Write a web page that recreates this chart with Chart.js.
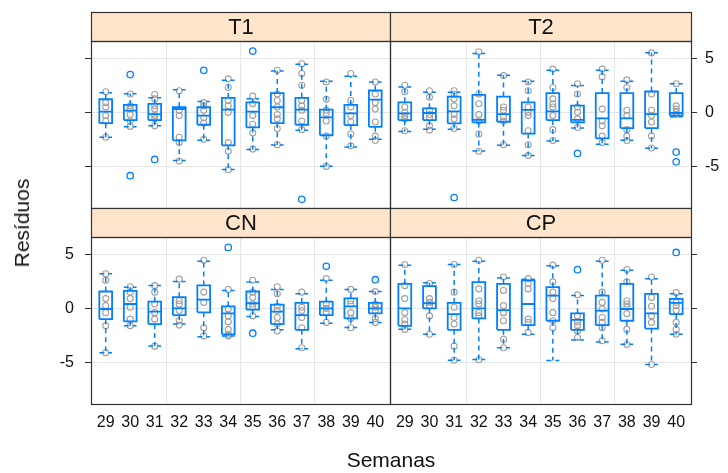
<!DOCTYPE html>
<html lang="pt">
<head>
<meta charset="UTF-8">
<title>Resíduos por semana</title>
<script src="https://cdn.jsdelivr.net/npm/chart.js"></script>
<style>
    body { margin: 0; background: #fff; }
    #wrap { position: relative; width: 728px; height: 473px; font-family: "Liberation Sans", Arial, sans-serif; color: #111; }
    #wrap canvas { position: absolute; left: 0; top: 0; }
    .lab { position: absolute; font-size: 21px; white-space: nowrap; }
    #xlab { left: 91px; width: 600px; top: 448px; text-align: center; }
    #ylab { left: 22px; top: 223px; transform: translate(-50%, -50%) rotate(-90deg); }
</style>
</head>
<body>
<div id="wrap">
    <canvas id="pT1" width="728" height="473"></canvas>
    <canvas id="pT2" width="728" height="473"></canvas>
    <canvas id="pCN" width="728" height="473"></canvas>
    <canvas id="pCP" width="728" height="473"></canvas>
    <div class="lab" id="xlab">Semanas</div>
    <div class="lab" id="ylab">Resíduos</div>
</div>
<script>
    const weeks = ['29', '30', '31', '32', '33', '34', '35', '36', '37', '38', '39', '40'];
    const yTicks = [-5, 0, 5];

    // box stats per week: [lower whisker, q1, median, q3, upper whisker]
    const boxT1 = [
        [-2.3, -1.0, 0.06, 1.21, 1.81], [-1.34, -0.72, 0.16, 0.69, 1.71], [-1.25, -0.72, -0.16, 0.78, 1.34],
        [-4.45, -2.59, 0.31, 0.47, 2.09], [-2.59, -1.15, -0.31, 0.47, 1.0], [-5.29, -3.05, 0.25, 1.34, 2.96],
        [-3.43, -1.4, 0.06, 0.93, 1.25], [-3.02, -1.0, 0.47, 1.78, 3.83], [-1.65, -1.15, 0.25, 1.34, 4.45],
        [-4.98, -2.12, -0.47, 0.25, 2.87], [-3.21, -1.18, -0.09, 0.69, 3.33], [-2.49, -1.34, 1.18, 2.02, 2.8]
    ];
    const outT1 = [[], [3.49, -5.86], [-4.36], [], [3.89], [], [5.67], [], [-8.04], [], [], []];
    const ptsT1 = [
        [1.9, 0.9, 0.5, -0.3, -0.8, -2.3], [1.7, 0.6, 0.3, -0.2, -0.8, -1.3], [1.65, 1.25, 0.6, 0.3, -0.3, -0.6, -1.25],
        [2.0, 0.2, -0.3, -2.3, -2.8, -4.5], [0.9, 0.6, 0.2, -0.5, -1.0, -2.5], [3.1, 2.3, 1.1, 0.6, 0.0, -2.8, -3.6, -5.3],
        [1.5, 0.8, -0.3, -1.1, -1.9, -3.4], [3.9, 1.7, 1.1, 0.5, -0.2, -0.6, -1.5, -3.0], [4.5, 3.6, 2.5, 1.1, 0.6, 0.2, -0.8, -1.6],
        [2.8, 1.2, 0.2, -0.1, -0.8, -2.2, -5.0], [3.6, 1.1, 0.5, -0.3, -0.9, -2.0, -3.1], [2.8, 1.7, 0.9, 0.3, -0.9, -2.2, -2.6]
    ];

    const boxT2 = [
        [-1.78, -0.72, -0.09, 0.93, 2.34], [-1.56, -0.72, -0.06, 0.37, 1.87], [-1.56, -1.03, 0.09, 1.46, 1.87],
        [-3.58, -0.93, -0.69, 1.62, 5.45], [-3.05, -0.87, -0.16, 1.46, 3.43], [-3.99, -1.96, 0.22, 0.93, 2.87],
        [-2.65, -0.72, 0.09, 1.78, 3.89], [-1.46, -0.93, -0.69, 0.62, 2.49], [-2.96, -2.4, -0.56, 1.78, 3.89],
        [-2.59, -1.46, -0.56, 1.78, 2.87], [-3.33, -1.46, -0.16, 1.93, 5.51], [-0.4, -0.31, -0.06, 1.78, 2.65]
    ];
    const outT2 = [[], [], [-7.88], [], [], [], [], [-3.8], [], [], [], [-3.68, -4.58]];
    const ptsT2 = [
        [2.5, 1.9, 0.5, 0.0, -0.3, -0.6, -1.7], [2.0, 1.4, 0.2, -0.2, -0.5, -1.25, -1.65], [2.0, 1.7, 1.25, 0.6, -0.2, -0.6, -1.5],
        [5.6, 1.7, 0.8, -0.2, -0.8, -2.0, -3.6], [3.4, 0.5, 0.2, -0.4, -0.8, -3.0], [2.8, 2.0, 0.5, 0.0, -0.3, -1.7, -3.0, -4.0],
        [4.0, 2.3, 1.25, 0.8, 0.5, -0.3, -1.6, -2.6], [2.65, 1.7, 0.5, 0.0, -0.6, -1.4], [4.0, 3.3, 0.3, -0.8, -1.25, -2.2, -2.8],
        [3.0, 2.3, 0.2, -0.3, -1.6, -2.2, -2.6], [5.5, 1.7, 0.2, -0.3, -0.9, -2.2, -3.3], [2.65, 0.6, 0.3, 0.0, -0.2]
    ];

    const boxCN = [
        [-4.11, -1.0, -0.06, 1.56, 3.21], [-1.62, -1.21, 0.4, 1.62, 1.96], [-3.49, -1.46, -0.31, 0.62, 2.12],
        [-1.46, -0.62, 0.0, 1.03, 2.49], [-2.62, -0.37, 0.81, 2.12, 4.36], [-2.55, -2.4, -0.47, 0.19, 1.65],
        [-0.75, -0.12, 0.47, 1.56, 2.43], [-1.99, -1.46, -0.31, 0.34, 1.74], [-3.74, -1.99, -0.62, 0.5, 1.34],
        [-1.37, -0.62, 0.0, 0.62, 2.59], [-1.78, -0.93, 0.19, 0.93, 1.74], [-1.31, -0.47, 0.0, 0.5, 1.56]
    ];
    const outCN = [[], [], [], [], [], [5.64], [-2.3], [], [], [3.89], [], [2.65]];
    const ptsCN = [
        [3.2, 2.6, 0.9, 0.25, -0.4, -1.6, -4.1], [2.0, 1.5, 0.9, 0.1, -1.0, -1.6], [2.1, 1.5, 0.4, -0.4, -1.0, -3.5],
        [2.7, 0.7, 0.4, -0.2, -1.15, -1.55], [4.45, 1.5, 0.55, -1.8, -2.55], [1.75, -0.05, -0.7, -1.25, -1.95, -2.4, -2.55],
        [2.6, 1.5, 1.0, 0.4, 0.1, -0.7], [2.0, 1.35, 0.2, -0.2, -0.85, -1.45, -2.1], [1.5, 0.1, -0.2, -0.85, -1.8, -3.65],
        [2.75, 0.4, 0.0, -0.4, -1.3], [1.75, 0.7, 0.4, -0.4, -0.95, -1.8], [1.55, 0.4, 0.1, -0.2, -0.95, -1.3]
    ];

    const boxCP = [
        [-1.93, -1.62, 0.0, 2.27, 3.99], [-2.4, 0.0, 0.47, 2.06, 2.37], [-4.8, -1.99, -0.53, 0.5, 4.05],
        [-4.74, -0.93, 0.0, 2.43, 4.36], [-3.64, -1.99, -0.16, 2.27, 2.8], [-2.4, -1.56, 0.4, 2.59, 2.68],
        [-4.83, -1.15, 1.18, 1.96, 3.93], [-2.93, -1.99, -1.06, -0.47, 1.18], [-3.12, -1.56, -0.22, 1.18, 4.36],
        [-3.33, -1.15, -0.06, 2.27, 3.52], [-5.2, -1.87, -0.47, 1.34, 2.74], [-2.4, -0.53, 0.5, 0.87, 1.34]
    ];
    const outCP = [[], [], [], [], [], [], [], [3.58], [], [], [], [5.17]];
    const ptsCP = [
        [4.05, 2.1, 0.9, -0.4, -1.05, -1.45, -1.95], [2.3, 0.9, 0.55, 0.25, -0.7, -2.4], [4.05, 1.5, 0.1, -0.85, -1.45, -3.5, -4.8],
        [4.45, 1.8, 0.7, 0.4, -0.4, -0.7, -4.75], [2.9, 1.65, 0.25, -0.4, -1.15, -2.85, -3.65], [2.75, 2.3, 1.8, -1.0, -1.3, -2.25],
        [4.0, 2.45, 1.5, 0.9, -0.4, -1.15, -1.8], [1.25, -0.7, -1.25, -1.6, -2.1, -2.7], [4.45, 1.5, 0.55, -0.05, -0.85, -1.3, -1.8, -3.0],
        [3.6, 2.45, 0.7, 0.4, 0.1, -0.5, -1.95, -3.35], [2.9, 1.0, 0.2, -0.7, -1.3, -5.2], [1.45, 0.55, 0.25, -0.2, -1.3, -1.95, -2.4]
    ];

    const blue = '#0080ff';
    const gridColor = '#e6e6e6';
    const frameColor = '#333333';
    const fontFamily = '"Liberation Sans", Arial, sans-serif';
    Chart.defaults.font.family = fontFamily;
    Chart.defaults.color = '#111';

    // strip with the panel name above the plot area, plus the panel frame
    const stripPlugin = {
        id: 'strip',
        afterDraw(chart, args, opts) {
            const ctx = chart.ctx;
            const a = chart.chartArea;
            const h = 29;
            const l = Math.round(a.left) + 0.5, r = Math.round(a.right) + 0.5;
            const t = Math.round(a.top) + 0.5, b = Math.round(a.bottom) + 0.5;
            ctx.save();
            ctx.fillStyle = '#ffe5cc';
            ctx.fillRect(l, t - h, r - l, h);
            ctx.strokeStyle = frameColor;
            ctx.lineWidth = 1.2;
            ctx.strokeRect(l, t - h, r - l, h);
            ctx.strokeRect(l, t, r - l, b - t);
            ctx.fillStyle = '#111';
            ctx.font = '22px ' + fontFamily;
            ctx.textAlign = 'center';
            ctx.textBaseline = 'middle';
            ctx.fillText(opts.text, (l + r) / 2, t - h / 2 + 1);
            ctx.restore();
        }
    };

    function panelData(box, out, pts) {
        const w = 0.26;
        const grey = [], frame = [], whisk = [], odd = [];
        box.forEach((s, i) => {
            const x = i + 1;
            const [lo, q1, md, q3, hi] = s;
            pts[i].forEach(v => grey.push({x: x, y: v}));
            frame.push({x: x - w, y: q1}, {x: x + w, y: q1}, {x: x + w, y: q3}, {x: x - w, y: q3}, {x: x - w, y: q1}, {x: x, y: null});
            frame.push({x: x - w, y: md}, {x: x + w, y: md}, {x: x, y: null});
            whisk.push({x: x, y: q3}, {x: x, y: hi}, {x: x, y: null});
            whisk.push({x: x, y: q1}, {x: x, y: lo}, {x: x, y: null});
            whisk.push({x: x - w, y: hi}, {x: x + w, y: hi}, {x: x, y: null});
            whisk.push({x: x - w, y: lo}, {x: x + w, y: lo}, {x: x, y: null});
            out[i].forEach(v => odd.push({x: x, y: v}));
        });
        return [
            {data: grey, order: 4, showLine: false, pointRadius: 3, pointBorderColor: '#a0a0a0',
             pointBackgroundColor: 'rgba(255,255,255,0)', pointBorderWidth: 1.1},
            {data: whisk, order: 3, showLine: true, spanGaps: false, borderColor: blue, borderWidth: 1.5,
             borderDash: [5, 4], pointRadius: 0},
            {data: frame, order: 2, showLine: true, spanGaps: false, borderColor: blue, borderWidth: 1.8, pointRadius: 0},
            {data: odd, order: 1, showLine: false, pointRadius: 3.2, pointBorderColor: blue,
             pointBackgroundColor: '#fff', pointBorderWidth: 1.3}
        ];
    }

    function makePanel(id, name, box, out, pts, cfg) {
        new Chart(document.getElementById(id), {
            type: 'scatter',
            data: {datasets: panelData(box, out, pts)},
            options: {
                responsive: false,
                animation: false,
                events: [],
                layout: {padding: cfg.pad},
                plugins: {legend: {display: false}, tooltip: {enabled: false}, strip: {text: name}},
                scales: {
                    x: {
                        type: 'linear', min: 0.4, max: 12.6, position: 'bottom',
                        grid: {display: false, drawTicks: false}, border: {display: false},
                        afterBuildTicks: s => { s.ticks = weeks.map((w, i) => ({value: i + 1})); },
                        ticks: {display: cfg.xLabels, autoSkip: false, maxRotation: 0, padding: 9,
                                font: {size: 16}, callback: v => weeks[v - 1]},
                        afterFit: s => { s.height = cfg.xLabels ? 30 : 0; }
                    },
                    xg: {
                        type: 'linear', min: 0.4, max: 12.6, position: 'bottom',
                        grid: {color: gridColor, drawTicks: false}, border: {display: false},
                        afterBuildTicks: s => { s.ticks = [3.5, 6.5, 9.5].map(v => ({value: v})); },
                        ticks: {display: false},
                        afterFit: s => { s.height = 0; }
                    },
                    y: {
                        type: 'linear', min: -8.85, max: 6.6, position: cfg.ySide,
                        grid: {color: gridColor, tickColor: frameColor, tickLength: 6, drawTicks: true},
                        border: {display: false},
                        afterBuildTicks: s => { s.ticks = yTicks.map(v => ({value: v})); },
                        ticks: {display: cfg.yLabels, padding: cfg.ySide === 'left' ? 11 : 8, font: {size: 16}},
                        afterFit: s => { s.width = cfg.ySide === 'left' ? 40 : 30; }
                    }
                }
            },
            plugins: [stripPlugin]
        });
    }

    makePanel('pT1', 'T1', boxT1, outT1, ptsT1,
        {pad: {left: 51, right: 338, top: 41, bottom: 265}, ySide: 'left', yLabels: false, xLabels: false});
    makePanel('pT2', 'T2', boxT2, outT2, ptsT2,
        {pad: {left: 390, right: 7, top: 41, bottom: 265}, ySide: 'right', yLabels: true, xLabels: false});
    makePanel('pCN', 'CN', boxCN, outCN, ptsCN,
        {pad: {left: 51, right: 338, top: 237, bottom: 39}, ySide: 'left', yLabels: true, xLabels: true});
    makePanel('pCP', 'CP', boxCP, outCP, ptsCP,
        {pad: {left: 390, right: 7, top: 237, bottom: 39}, ySide: 'right', yLabels: false, xLabels: true});
</script>
</body>
</html>
